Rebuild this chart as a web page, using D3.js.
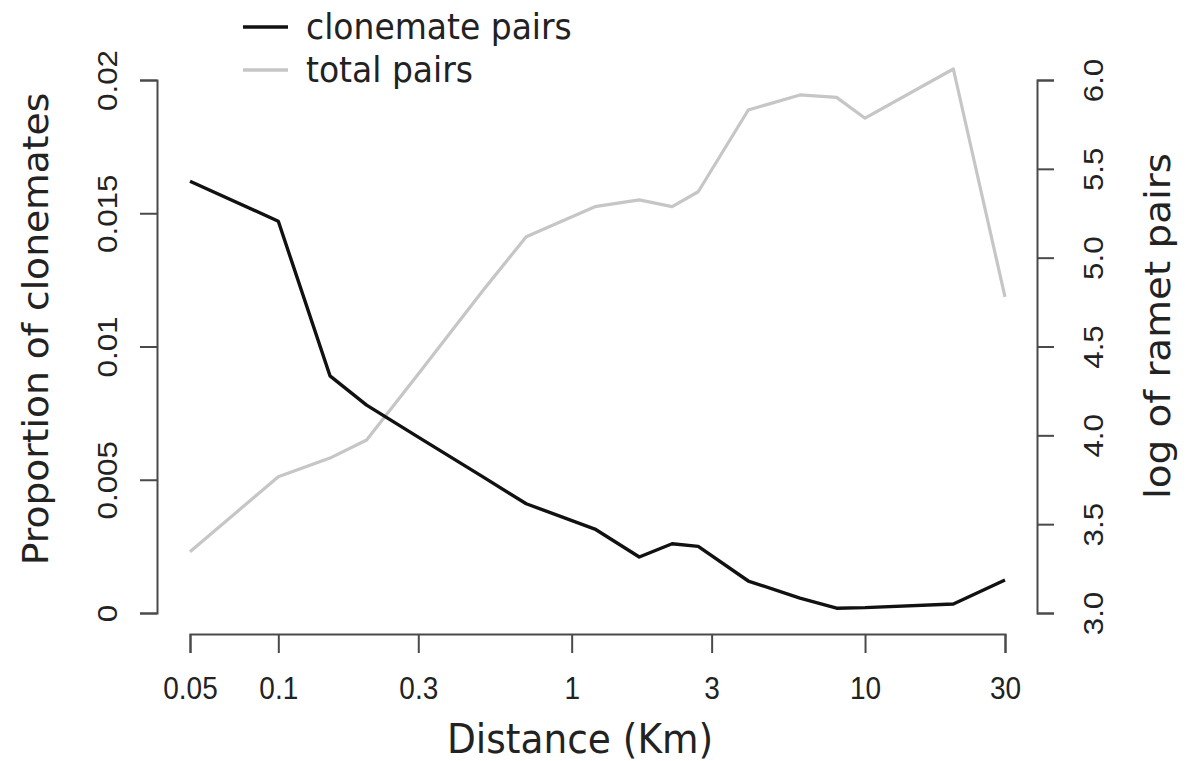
<!DOCTYPE html>
<html>
<head>
<meta charset="utf-8">
<script src="https://cdn.jsdelivr.net/npm/d3@7"></script>
<style>
  html, body { margin: 0; padding: 0; background: #ffffff; }
  svg { display: block; }
</style>
</head>
<body>
<svg id="chart" width="1190" height="761"></svg>
<script>
// ---- data ----
const distances = [0.05, 0.1, 0.15, 0.2, 0.3, 0.5, 0.7, 1.2, 1.7, 2.2, 2.7, 4, 6, 8, 10, 20, 30];
const clonemateProp = [0.0162, 0.0147, 0.0089, 0.0078, 0.0066, 0.0051, 0.0041, 0.00315, 0.0021, 0.0026, 0.0025, 0.0012, 0.00056, 0.00018, 0.0002, 0.00034, 0.00124];
const logTotalPairs = [3.345, 3.767, 3.872, 3.974, 4.345, 4.818, 5.118, 5.287, 5.325, 5.287, 5.371, 5.831, 5.916, 5.902, 5.785, 6.062, 4.779];
const xTicks = [0.05, 0.1, 0.3, 1, 3, 10, 30];
const xTickLabels = ["0.05", "0.1", "0.3", "1", "3", "10", "30"];
const leftTicks = [0, 0.005, 0.01, 0.015, 0.02];
const leftTickLabels = ["0", "0.005", "0.01", "0.015", "0.02"];
const rightTicks = [3.0, 3.5, 4.0, 4.5, 5.0, 5.5, 6.0];
const rightTickLabels = ["3.0", "3.5", "4.0", "4.5", "5.0", "5.5", "6.0"];
const seriesNames = ["clonemate pairs", "total pairs"];
const seriesColors = ["#111111", "#c6c6c6"];

// ---- layout ----
const svg = d3.select("#chart");
const axisColor = "#4a4a4a";
const textColor = "#222222";
const tickFont = "'Liberation Sans', Arial, sans-serif";
const titleFont = "'DejaVu Sans', 'Liberation Sans', sans-serif";

const x = d3.scaleLog().domain([0.05, 30]).range([190, 1005]);
const yL = d3.scaleLinear().domain([0, 0.02]).range([613, 80]);
const yR = d3.scaleLinear().domain([3, 6]).range([613, 80]);

const plotLeft = 157, plotRight = 1037, plotBottom = 634;

// x axis
const xAxis = svg.append("g")
  .attr("transform", `translate(0,${plotBottom})`)
  .call(d3.axisBottom(x).tickValues(xTicks)
    .tickFormat((d, i) => xTickLabels[i]).tickSizeOuter(0).tickSize(19));
xAxis.select(".domain").attr("stroke", axisColor).attr("stroke-width", 2);
xAxis.selectAll(".tick line").attr("stroke", axisColor).attr("stroke-width", 2);
xAxis.selectAll(".tick text")
  .attr("transform", "scale(1,1.1)")
  .attr("y", 39.5).attr("dy", "0.71em")
  .attr("fill", textColor)
  .style("font-family", tickFont).style("font-size", "28px");

// left axis
const lAxis = svg.append("g")
  .attr("transform", `translate(${plotLeft},0)`)
  .call(d3.axisLeft(yL).tickValues(leftTicks)
    .tickFormat((d, i) => leftTickLabels[i]).tickSizeOuter(0).tickSize(17));
lAxis.select(".domain").attr("stroke", axisColor).attr("stroke-width", 2);
lAxis.selectAll(".tick line").attr("stroke", axisColor).attr("stroke-width", 2);
lAxis.selectAll(".tick text")
  .attr("transform", "rotate(-90) scale(1.12,1)")
  .attr("x", 0).attr("y", -50).attr("dy", "0.35em")
  .attr("text-anchor", "middle")
  .attr("fill", textColor)
  .style("font-family", tickFont).style("font-size", "28px");

// right axis
const rAxis = svg.append("g")
  .attr("transform", `translate(${plotRight},0)`)
  .call(d3.axisRight(yR).tickValues(rightTicks)
    .tickFormat((d, i) => rightTickLabels[i]).tickSizeOuter(0).tickSize(17));
rAxis.select(".domain").attr("stroke", axisColor).attr("stroke-width", 2);
rAxis.selectAll(".tick line").attr("stroke", axisColor).attr("stroke-width", 2);
rAxis.selectAll(".tick text")
  .attr("transform", "rotate(-90) scale(1.12,1)")
  .attr("x", 0).attr("y", 56).attr("dy", "0.35em")
  .attr("text-anchor", "middle")
  .attr("fill", textColor)
  .style("font-family", tickFont).style("font-size", "28px");

// lines
const lineL = d3.line().x((d, i) => x(distances[i])).y(d => yL(d));
const lineR = d3.line().x((d, i) => x(distances[i])).y(d => yR(d));

svg.append("path").datum(logTotalPairs)
  .attr("d", lineR).attr("fill", "none")
  .attr("stroke", seriesColors[1]).attr("stroke-width", 3.2)
  .attr("stroke-linejoin", "round");
svg.append("path").datum(clonemateProp)
  .attr("d", lineL).attr("fill", "none")
  .attr("stroke", seriesColors[0]).attr("stroke-width", 3.4)
  .attr("stroke-linejoin", "round");

// titles
svg.append("text")
  .attr("transform", "translate(580,753) scale(1,1.07)")
  .attr("text-anchor", "middle")
  .attr("fill", textColor)
  .style("font-family", titleFont).style("font-size", "37.5px")
  .text("Distance (Km)");

svg.append("text")
  .attr("transform", "translate(48,329) rotate(-90) scale(1.075,1)")
  .attr("text-anchor", "middle")
  .attr("fill", textColor)
  .style("font-family", titleFont).style("font-size", "35px")
  .text("Proportion of clonemates");

svg.append("text")
  .attr("transform", "translate(1170,326) rotate(-90) scale(1.08,1)")
  .attr("text-anchor", "middle")
  .attr("fill", textColor)
  .style("font-family", titleFont).style("font-size", "36px")
  .text("log of ramet pairs");

// legend
const legendY = [27, 70];
seriesNames.forEach((name, i) => {
  svg.append("line")
    .attr("x1", 243).attr("x2", 288)
    .attr("y1", legendY[i]).attr("y2", legendY[i])
    .attr("stroke", seriesColors[i]).attr("stroke-width", 3.4);
  svg.append("text")
    .attr("transform", `translate(306,${legendY[i]}) scale(1,1.07)`)
    .attr("dy", "0.35em")
    .attr("fill", textColor)
    .style("font-family", titleFont).style("font-size", "33px")
    .text(name);
});
</script>
</body>
</html>
